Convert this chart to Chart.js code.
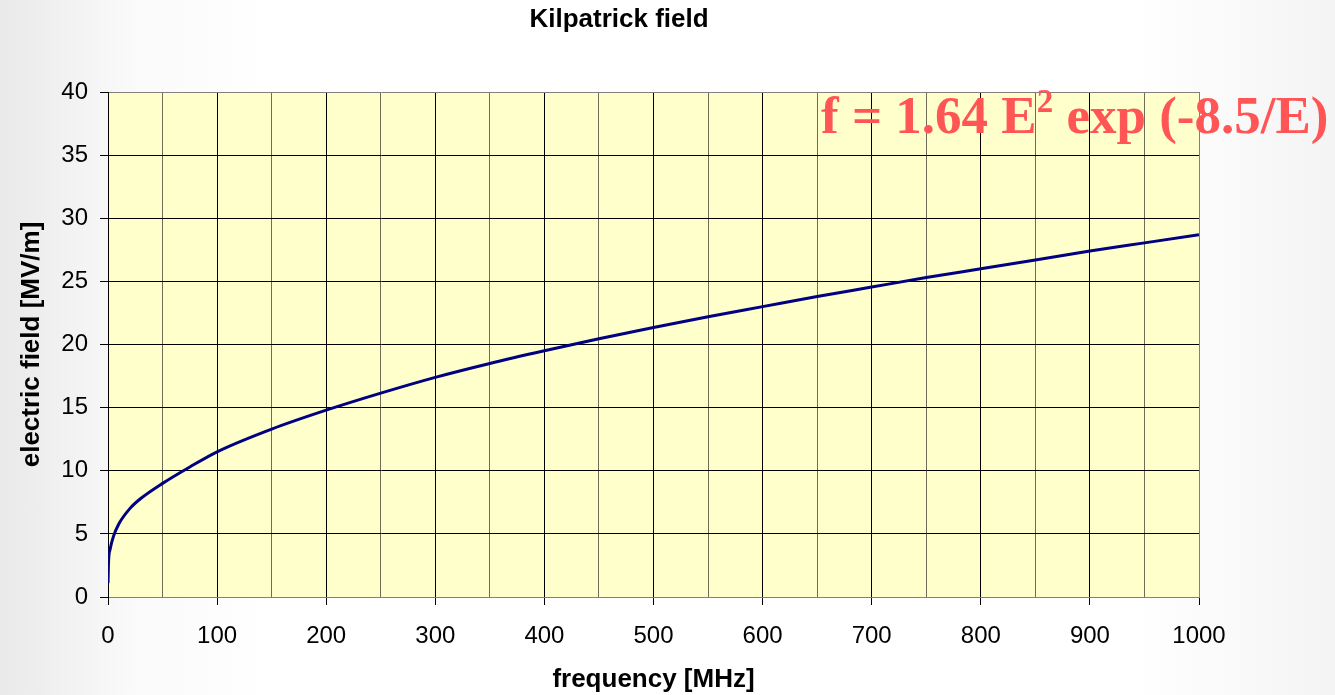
<!DOCTYPE html>
<html>
<head>
<meta charset="utf-8">
<script src="https://cdn.jsdelivr.net/npm/chart.js@4"></script>
<style>
  html, body { margin: 0; padding: 0; }
  body {
    width: 1335px; height: 695px; overflow: hidden;
    background: linear-gradient(to right, #e9e9e9 0%, #fafafa 10%, #ffffff 20%, #ffffff 85%, #f4f4f4 100%);
  }
  canvas { display: block; }
</style>
</head>
<body>
<canvas id="kilpatrick" width="1335" height="695"></canvas>
<script>
// values
const frequency = [0, 0.5, 2, 5, 10, 20, 30, 50, 75, 100, 150, 200, 250, 300, 350, 400, 450, 500, 550, 600, 650, 700, 750, 800, 850, 900, 950, 1000];
const field = [1.1, 2.8, 3.8, 4.8, 5.8, 7.0, 7.8, 9.0, 10.3, 11.5, 13.3, 14.8, 16.15, 17.4, 18.5, 19.5, 20.45, 21.35, 22.2, 23.0, 23.8, 24.55, 25.3, 26.0, 26.7, 27.4, 28.05, 28.7];
const chartTitle = "Kilpatrick field";
const xTitle = "frequency [MHz]";
const yTitle = "electric field [MV/m]";

const ctx = document.querySelector("#kilpatrick").getContext("2d");
const sans = "'Liberation Sans', Arial, sans-serif";
const serif = "'Liberation Serif', 'Times New Roman', serif";

const extras = {
  id: "extras",
  beforeDraw(chart) {
    const { ctx, chartArea: a } = chart;
    ctx.save();
    ctx.fillStyle = "#ffffcc";
    ctx.fillRect(a.left, a.top, a.right - a.left, a.bottom - a.top);
    ctx.restore();
  },
  afterDraw(chart) {
    const { ctx } = chart;
    ctx.save();
    ctx.fillStyle = "#000";
    ctx.font = "bold 26px " + sans;
    ctx.textAlign = "center";
    ctx.textBaseline = "middle";
    ctx.fillText(chartTitle, 619, 20);

    // formula annotation
    ctx.fillStyle = "#ff5555";
    ctx.textAlign = "left";
    ctx.textBaseline = "alphabetic";
    ctx.font = "bold 53px " + serif;
    let x = 821;
    const base = 133;
    const part1 = "f = 1.64 E";
    ctx.fillText(part1, x, base);
    x += ctx.measureText(part1).width;
    ctx.font = "bold 33px " + serif;
    ctx.fillText("2", x, base - 21);
    x += ctx.measureText("2").width;
    ctx.font = "bold 53px " + serif;
    ctx.fillText(" exp (-8.5/E)", x, base);
    ctx.restore();
  }
};

const chart = new Chart(ctx, {
  type: "line",
  data: {
    datasets: [{
      data: frequency.map((f, i) => ({ x: f, y: field[i] })),
      borderColor: "#000080",
      borderWidth: 3,
      pointRadius: 0,
      fill: false,
      cubicInterpolationMode: "monotone"
    }]
  },
  options: {
    responsive: false,
    maintainAspectRatio: false,
    animation: false,
    devicePixelRatio: 1,
    layout: { padding: { left: 0, right: 136, top: 92, bottom: 0 } },
    plugins: { legend: { display: false }, title: { display: false }, tooltip: { enabled: false } },
    scales: {
      x: {
        type: "linear",
        min: 0, max: 1000,
        afterFit: (s) => { s.height = 98; },
        border: { color: "#808080", width: 1 },
        grid: {
          color: (c) => (c.tick.value === 1000 ? "#808080" : c.tick.value % 100 === 0 ? "#000000" : "#6e6e58"),
          tickColor: (c) => (c.tick.value % 100 === 0 ? "#000000" : "rgba(0,0,0,0)"),
          tickLength: 8,
          lineWidth: 1
        },
        ticks: {
          stepSize: 50,
          autoSkip: false,
          maxRotation: 0,
          padding: 17,
          color: "#000",
          font: { family: sans, size: 24 },
          callback: (v) => (v % 100 === 0 ? String(v) : "")
        },
        title: {
          display: true,
          text: xTitle,
          color: "#000",
          font: { family: sans, size: 26, weight: "bold" },
          padding: { top: 6, bottom: 0 }
        }
      },
      y: {
        min: 0, max: 40,
        afterFit: (s) => { s.width = 108; },
        border: { color: "#000000", width: 1 },
        grid: {
          color: (c) => (c.tick.value === 40 ? "#808080" : "#000000"),
          tickColor: "#000000",
          tickLength: 8,
          lineWidth: 1
        },
        ticks: {
          stepSize: 5,
          padding: 12,
          color: "#000",
          font: { family: sans, size: 24 }
        },
        title: {
          display: true,
          text: yTitle,
          color: "#000",
          font: { family: sans, size: 26, weight: "bold" },
          padding: { top: 16, bottom: 0 }
        }
      }
    }
  },
  plugins: [extras]
});
</script>
</body>
</html>
